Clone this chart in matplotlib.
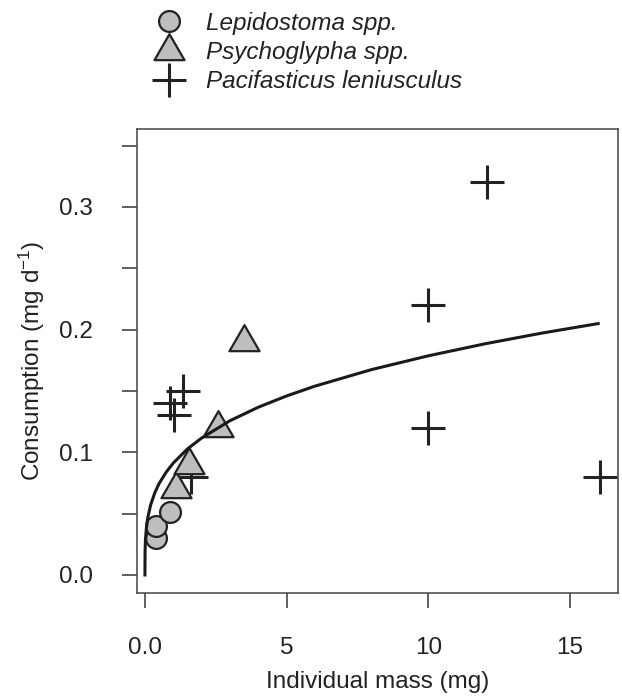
import matplotlib
matplotlib.use("Agg")
import matplotlib.pyplot as plt
from matplotlib.path import Path

plt.rcParams['font.family'] = ['Liberation Sans', 'DejaVu Sans']
plt.rcParams['mathtext.fontset'] = 'custom'
plt.rcParams['mathtext.rm'] = 'Liberation Sans'
plt.rcParams['mathtext.it'] = 'Liberation Sans:italic'

# data
lepi_x = [0.38, 0.38, 0.88]
lepi_y = [0.030, 0.040, 0.051]

psycho_x = [1.11, 1.55, 2.57, 3.48]
psycho_y = [0.070, 0.090, 0.120, 0.190]

pacif_x = [0.90, 1.01, 1.35, 1.62, 9.98, 9.98, 12.07, 16.05]
pacif_y = [0.140, 0.130, 0.150, 0.080, 0.220, 0.120, 0.320, 0.080]

# fitted curve
curve_x = [0.0, 0.005, 0.02, 0.05, 0.1, 0.2, 0.35, 0.5, 0.75, 1.0, 1.5, 2.0,
           3.0, 4.0, 5.0, 6.0, 8.0, 10.0, 12.0, 14.0, 16.0]
curve_y = [0.0, 0.0194, 0.0291, 0.038, 0.0466, 0.057, 0.0671, 0.0745, 0.0838,
           0.0912, 0.1027, 0.1116, 0.1257, 0.1367, 0.1459, 0.1539, 0.1674,
           0.1786, 0.1884, 0.1971, 0.2049]

x_ticks = [0, 5, 10, 15]
x_ticklabels = ["0.0", "5", "10", "15"]
y_ticks = [0.0, 0.05, 0.1, 0.15, 0.2, 0.25, 0.3, 0.35]
y_ticklabels = ["0.0", "", "0.1", "", "0.2", "", "0.3", ""]

labels = ["Lepidostoma spp.", "Psychoglypha spp.", "Pacifasticus leniusculus"]

ink = "#222222"
fill = "#bebebe"
fs = 17.5

# R style triangle, centred on its centroid
tri = Path([(0, 1), (-0.866, -0.5), (0.866, -0.5), (0, 1)],
           [Path.MOVETO, Path.LINETO, Path.LINETO, Path.CLOSEPOLY])

fig = plt.figure(figsize=(6.22, 6.96), dpi=100)
ax = fig.add_axes([137/622, 1 - 593/696, 481/622, 464/696])

h3, = ax.plot(pacif_x, pacif_y, ls="none", marker="+", ms=24.5, mew=2.2,
              color=ink, zorder=2)
h1, = ax.plot(lepi_x, lepi_y, ls="none", marker="o", ms=15, mew=1.6,
              mfc=fill, mec=ink, zorder=3)
h2, = ax.plot(psycho_x, psycho_y, ls="none", marker=tri, ms=25, mew=1.6,
              mfc=fill, mec=ink, zorder=3)
ax.plot(curve_x, curve_y, color="#1a1a1a", lw=2.2, zorder=4)

ax.set_xlim(-0.28, 16.70)
ax.set_ylim(-0.0147, 0.3635)
ax.set_xticks(x_ticks)
ax.set_xticklabels(x_ticklabels)
ax.set_yticks(y_ticks)
ax.set_yticklabels(y_ticklabels)
ax.tick_params(axis="both", direction="out", length=11, width=1.1,
               colors="#333333", labelsize=fs, labelcolor=ink, pad=21)
for s in ax.spines.values():
    s.set_color("#444444")
    s.set_linewidth(1.1)

ax.set_xlabel("Individual mass (mg)", fontsize=fs, color=ink, labelpad=8)
ax.set_ylabel("Consumption (mg d$^{\\mathrm{-1}}$)", fontsize=fs, color=ink,
              labelpad=8)

fig.legend([h1, h2, h3], labels, loc="upper left",
           bbox_to_anchor=(150/622, 1 - 12/696), frameon=False,
           prop={"style": "italic", "size": fs}, labelcolor=ink,
           handlelength=1.6, handletextpad=0.7, labelspacing=0.25,
           borderpad=0, borderaxespad=0)

fig.savefig("out.png", dpi=100)
